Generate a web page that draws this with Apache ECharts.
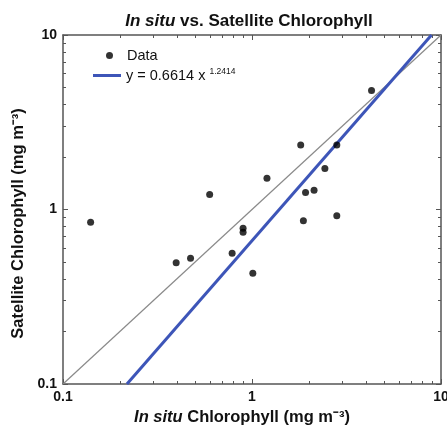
<!DOCTYPE html>
<html>
<head>
<meta charset="utf-8">
<script src="https://cdn.jsdelivr.net/npm/echarts@6/dist/echarts.min.js"></script>
<style>html,body{margin:0;padding:0;background:#fff}#c{width:447px;height:428px}</style>
</head>
<body>
<div id="c"></div>
<script>
// In situ chlorophyll (x) and satellite chlorophyll (y), mg m^-3
var inSitu =    [0.140, 0.597, 4.29, 1.81, 2.81, 1.20, 2.43, 1.92, 2.13, 1.87, 2.81, 0.897, 0.897, 0.397, 0.473, 0.785, 1.01];
var satellite = [0.845, 1.22,  4.80, 2.34, 2.34, 1.51, 1.72, 1.25, 1.29, 0.863, 0.922, 0.780, 0.740, 0.496, 0.525, 0.561, 0.431];
// Power-law fit y = 0.6614 x^1.2414, endpoints where it crosses the plot frame
var fitX = [0.218, 8.91];
var fitY = [0.1, 10];
// 1:1 line
var oneX = [0.1, 10];
var oneY = [0.1, 10];
var minorVals = [0.2,0.3,0.4,0.5,0.6,0.7,0.8,0.9,2,3,4,5,6,7,8,9];

var FONT = '"Liberation Sans", Arial, sans-serif';
var AX = '#555';

function logAxis(extra) {
  var a = {
    type: 'log', logBase: 10, min: 0.1, max: 10,
    axisLine: {show: true, onZero: false, lineStyle: {color: AX, width: 1.5}},
    axisTick: {show: true, inside: true, length: 5, lineStyle: {color: AX, width: 1}},
    axisLabel: {show: false},
    splitLine: {show: false},
    minorTick: {show: false}
  };
  for (var k in extra) a[k] = extra[k];
  return a;
}
function minorAxis(pos) {
  return logAxis({position: pos, axisLine: {show: false},
    axisTick: {show: true, inside: true, length: 3, customValues: minorVals, lineStyle: {color: AX, width: 1}}});
}

var chart = echarts.init(document.getElementById('c'), null, {renderer: 'canvas'});
var xData = inSitu.map(function (v, i) { return [v, satellite[i]]; });

chart.setOption({
  animation: false,
  textStyle: {fontFamily: FONT},
  title: {
    text: '{i|In situ}{b| vs. Satellite Chlorophyll}',
    left: 244, top: 8, textAlign: 'center',
    textStyle: {rich: {
      i: {fontFamily: FONT, fontSize: 17, fontWeight: 'bold', fontStyle: 'italic', color: '#111'},
      b: {fontFamily: FONT, fontSize: 17, fontWeight: 'bold', color: '#111'}
    }}
  },
  grid: {left: 63, right: 6, top: 35, bottom: 44, containLabel: false, outerBoundsMode: 'none'},
  legend: [
    {data: [{name: 'Data', icon: 'circle'}], left: 106, top: 48, padding: 0, itemWidth: 7, itemHeight: 7,
     textStyle: {fontFamily: FONT, fontSize: 14.5, color: '#111', padding: [0,0,0,9]}},
    {data: [{name: 'fit', icon: 'rect'}], left: 93, top: 67, padding: 0, itemWidth: 28, itemHeight: 3,
     formatter: function () { return '{a|y = 0.6614 x }{s|1.2414}'; },
     textStyle: {rich: {
       a: {fontFamily: FONT, fontSize: 14.5, color: '#111'},
       s: {fontFamily: FONT, fontSize: 8.5, color: '#111', padding: [0,0,8,0]}
     }}}
  ],
  xAxis: [
    logAxis({position: 'bottom', name: '{i|In situ}{b| Chlorophyll (mg m⁻³)}', nameLocation: 'middle', nameGap: 25,
      nameTextStyle: {padding: [0, 20, 0, 0], rich: {
        i: {fontFamily: FONT, fontSize: 16.5, fontWeight: 'bold', fontStyle: 'italic', color: '#111'},
        b: {fontFamily: FONT, fontSize: 16.5, fontWeight: 'bold', color: '#111'}}},
      axisLabel: {show: true, margin: 6, fontFamily: FONT, fontSize: 14, fontWeight: 'bold', color: '#111'}}),
    logAxis({position: 'top'}),
    minorAxis('bottom'),
    minorAxis('top')
  ],
  yAxis: [
    logAxis({position: 'left', name: 'Satellite Chlorophyll (mg m⁻³)', nameLocation: 'middle', nameGap: 36,
      nameTextStyle: {fontFamily: FONT, fontSize: 16.5, fontWeight: 'bold', color: '#111', padding: [0, 28, 0, 0]},
      axisLabel: {show: true, margin: 6, fontFamily: FONT, fontSize: 14, fontWeight: 'bold', color: '#111'}}),
    logAxis({position: 'right'}),
    minorAxis('left'),
    minorAxis('right')
  ],
  series: [
    {name: 'oneToOne', type: 'line', xAxisIndex: 0, yAxisIndex: 0, symbol: 'none', silent: true,
     data: oneX.map(function (v, i) { return [v, oneY[i]]; }),
     lineStyle: {color: '#8a8a8a', width: 1.2}, z: 2},
    {name: 'fit', type: 'line', xAxisIndex: 0, yAxisIndex: 0, symbol: 'none',
     data: fitX.map(function (v, i) { return [v, fitY[i]]; }),
     lineStyle: {color: '#3d55b8', width: 3}, itemStyle: {color: '#3d55b8'}, z: 3},
    {name: 'Data', type: 'scatter', xAxisIndex: 0, yAxisIndex: 0, symbol: 'circle', symbolSize: 7,
     data: xData, itemStyle: {color: '#000'}, z: 4}
  ]
});
</script>
</body>
</html>
